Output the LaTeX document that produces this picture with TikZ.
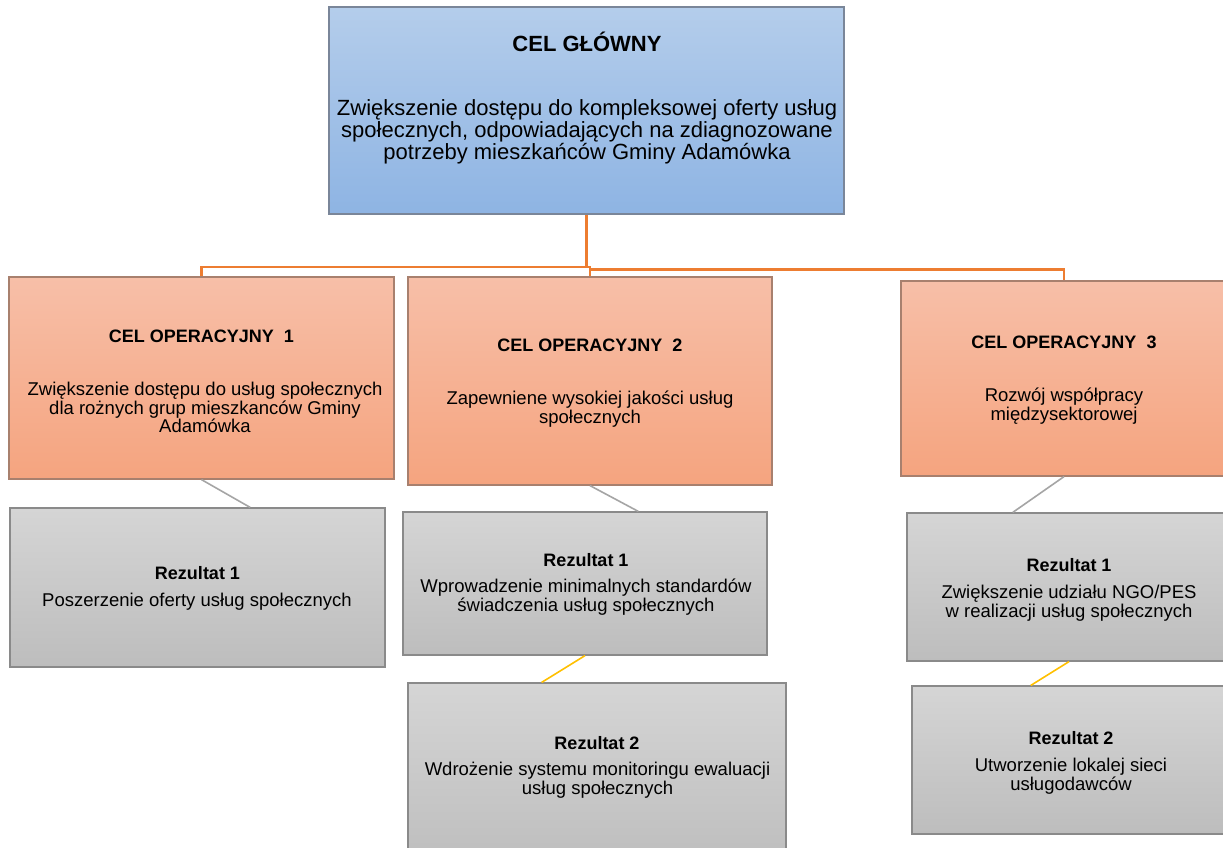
\documentclass[tikz,border=0pt]{standalone}
\usepackage{fontspec}
\setmainfont{Liberation Sans}
\usetikzlibrary{calc}
\definecolor{orline}{HTML}{ED7D31}
\definecolor{grline}{HTML}{A5A5A5}
\definecolor{yeline}{HTML}{FFC000}
\definecolor{bluetop}{HTML}{B4CDEB}
\definecolor{bluebot}{HTML}{8EB4E3}
\definecolor{ortop}{HTML}{F7BFA8}
\definecolor{orbot}{HTML}{F5A47F}
\definecolor{grtop}{HTML}{D5D5D5}
\definecolor{grbot}{HTML}{BDBDBD}
\definecolor{bluebd}{HTML}{7A8699}
\definecolor{orbd}{HTML}{A8806E}
\definecolor{grbd}{HTML}{8A8A8A}
\newcommand\bigtitle{\fontsize{22}{23}\selectfont\bfseries}
\newcommand\bigbody{\fontsize{22}{23}\selectfont}
\newcommand\smtitle{\fontsize{18}{18.5}\selectfont\bfseries}
\newcommand\smbody{\fontsize{18.5}{18.5}\selectfont}
\begin{document}
\begin{tikzpicture}[x=1pt,y=-1pt,
  boxbase/.style={rectangle, inner sep=0pt, line width=1.2pt},
  gbox/.style={boxbase, draw=bluebd, top color=bluetop, bottom color=bluebot},
  obox/.style={boxbase, draw=orbd, top color=ortop, bottom color=orbot},
  rbox/.style={boxbase, draw=grbd, top color=grtop, bottom color=grbot},
  txt/.style={anchor=base, align=center, inner sep=0pt, text=black},
  orlink/.style={draw=orline, line width=2.2pt},
  grlink/.style={draw=grline, line width=1.6pt},
  yelink/.style={draw=yeline, line width=1.6pt}]
\fill[white] (0,0) rectangle (1223,847);
\useasboundingbox (0,0) rectangle (1223,847);
\clip (0,0) rectangle (1223,847);

% boxes
\node[gbox, minimum width=515pt, minimum height=207pt] (g) at (586.5,110.5) {};
\node[obox, minimum width=385pt, minimum height=202pt] (o1) at (201.5,378) {};
\node[obox, minimum width=364pt, minimum height=208pt] (o2) at (590,381) {};
\node[obox, minimum width=326pt, minimum height=195pt] (o3) at (1064,378.5) {};
\node[rbox, minimum width=375pt, minimum height=159pt] (r11) at (197.5,587.5) {};
\node[rbox, minimum width=364pt, minimum height=143pt] (r21) at (585,583.5) {};
\node[rbox, minimum width=378pt, minimum height=187pt] (r22) at (597,776.5) {};
\node[rbox, minimum width=324pt, minimum height=148pt] (r31) at (1069,587) {};
\node[rbox, minimum width=318pt, minimum height=148pt] (r32) at (1071,760) {};

% texts (anchor base = baseline of the last line)
\node[txt] (gt) at (587,51) {\bigtitle CEL GŁÓWNY};
\node[txt] (gb) at (587,159) {\bigbody Zwiększenie dostępu do kompleksowej oferty usług\\\bigbody społecznych, odpowiadających na zdiagnozowane\\\bigbody potrzeby mieszkańców Gminy Adamówka};

\node[txt] (o1t) at (201.5,342.5) {\smtitle CEL OPERACYJNY\ \ 1};
\node[txt] (o1b) at (205,432.7) {\smbody Zwiększenie dostępu do usług społecznych\\\smbody dla rożnych grup mieszkanców Gminy\\\smbody Adamówka};

\node[txt] (o2t) at (590,351.5) {\smtitle CEL OPERACYJNY\ \ 2};
\node[txt] (o2b) at (590,423.2) {\smbody Zapewniene wysokiej jakości usług\\\smbody społecznych};

\node[txt] (o3t) at (1064,348.5) {\smtitle CEL OPERACYJNY\ \ 3};
\node[txt] (o3b) at (1064,420.2) {\smbody Rozwój współpracy\\\smbody międzysektorowej};

\node[txt] (r11t) at (197.5,579.5) {\smtitle Rezultat 1};
\node[txt] (r11b) at (197,606.7) {\smbody Poszerzenie oferty usług społecznych};

\node[txt] (r21t) at (586,566.5) {\smtitle Rezultat 1};
\node[txt] (r21b) at (586,611.2) {\smbody Wprowadzenie minimalnych standardów\\\smbody świadczenia usług społecznych};

\node[txt] (r22t) at (597,749.5) {\smtitle Rezultat 2};
\node[txt] (r22b) at (597.5,794.2) {\smbody Wdrożenie systemu monitoringu ewaluacji\\\smbody usług społecznych};

\node[txt] (r31t) at (1069,571.5) {\smtitle Rezultat 1};
\node[txt] (r31b) at (1069,617.2) {\smbody Zwiększenie udziału NGO/PES\\\smbody w realizacji usług społecznych};

\node[txt] (r32t) at (1071,744.5) {\smtitle Rezultat 2};
\node[txt] (r32b) at (1071,790.2) {\smbody Utworzenie lokalej sieci\\\smbody usługodawców};

% orange tree connectors
\coordinate (j1) at ($(g.south)+(0,52)$);
\coordinate (j2) at ($(o2.north)+(0,-7)$);
\draw[orlink] (g.south) -- (j1) -| (o1.north);
\draw[orlink] (j1) -| (o2.north);
\draw[orlink] (j2) -| (o3.north);

% gray connectors
\draw[grlink] (o1.south) -- ($(r11.north west)!0.64!(r11.north east)$);
\draw[grlink] (o2.south) -- ($(r21.north west)!0.646!(r21.north east)$);
\draw[grlink] (o3.south) -- ($(r31.north west)!0.327!(r31.north east)$);

% yellow connectors
\draw[yelink] (r21.south) -- ($(r22.north west)!0.354!(r22.north east)$);
\draw[yelink] (r31.south) -- ($(r32.north west)!0.374!(r32.north east)$);
\end{tikzpicture}
\end{document}
